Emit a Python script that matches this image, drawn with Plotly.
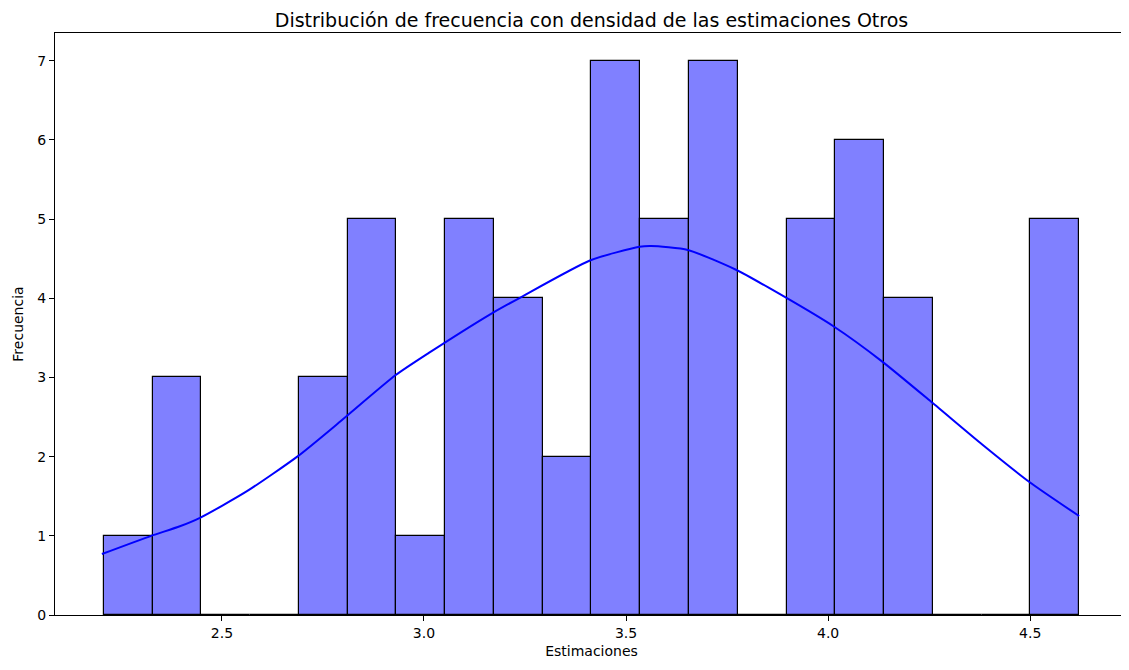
import plotly.graph_objects as go

# histogram bins (centers) and counts
bin_centers = [2.2683, 2.3890, 2.5096, 2.6303, 2.7509, 2.8716, 2.9922, 3.1129, 3.2335, 3.3542,
               3.4748, 3.5955, 3.7161, 3.8368, 3.9574, 4.0781, 4.1987, 4.3194, 4.4400, 4.5607]
counts = [1, 3, 0, 0, 3, 5, 1, 5, 4, 2, 7, 5, 7, 0, 5, 6, 4, 0, 0, 5]
bin_width = 0.12065

# KDE curve (scaled to counts)
kde_x = [2.203, 2.325, 2.396, 2.447, 2.561, 2.689, 2.792, 2.930, 3.012, 3.168, 3.235,
         3.412, 3.533, 3.562, 3.653, 3.772, 3.854, 4.015, 4.134, 4.258, 4.382, 4.498, 4.621]
kde_y = [0.77, 1.00, 1.12, 1.23, 1.56, 2.01, 2.44, 3.03, 3.31, 3.81, 4.00,
         4.48, 4.65, 4.66, 4.61, 4.36, 4.13, 3.64, 3.20, 2.68, 2.15, 1.68, 1.25]

x_ticks = [2.5, 3.0, 3.5, 4.0, 4.5]
y_ticks = [0, 1, 2, 3, 4, 5, 6, 7]

font = "DejaVu Sans"

fig = go.Figure()
fig.add_trace(go.Bar(
    x=bin_centers, y=counts, width=bin_width,
    marker=dict(color="#8080ff", line=dict(color="black", width=1.2)),
    showlegend=False, hoverinfo="x+y"
))
fig.add_trace(go.Scatter(
    x=kde_x, y=kde_y, mode="lines",
    line=dict(color="#0000ff", width=2, shape="spline", smoothing=0.6),
    showlegend=False
))

axis_style = dict(
    showline=True, linecolor="black", linewidth=1, mirror=True, automargin=False,
    ticks="outside", ticklen=5, tickcolor="black", showgrid=False, zeroline=False,
    tickfont=dict(family=font, size=14, color="black"),
)

# the page body adds an 8px offset, so the figure is sized to compensate
fig.update_layout(
    width=1121, height=662,
    margin=dict(l=47, r=1, t=25, b=55, autoexpand=False),
    paper_bgcolor="white", plot_bgcolor="white",
    bargap=0,
    title=dict(text="Distribución de frecuencia con densidad de las estimaciones Otros",
               x=(47 + 1120) / 2 / 1121, xanchor="center",
               yref="paper", y=1, yanchor="bottom", pad=dict(b=6),
               font=dict(family=font, size=19, color="black")),
    xaxis=dict(range=[2.087, 4.742], tickvals=x_ticks, ticktext=[f"{v:.1f}" for v in x_ticks],
               title=dict(text="Estimaciones", standoff=6, font=dict(family=font, size=14, color="black")),
               **axis_style),
    yaxis=dict(range=[0, 7.35], tickvals=y_ticks,
               title=dict(text="Frecuencia", standoff=10, font=dict(family=font, size=14, color="black")),
               **axis_style),
)

fig.write_html("out.html")
